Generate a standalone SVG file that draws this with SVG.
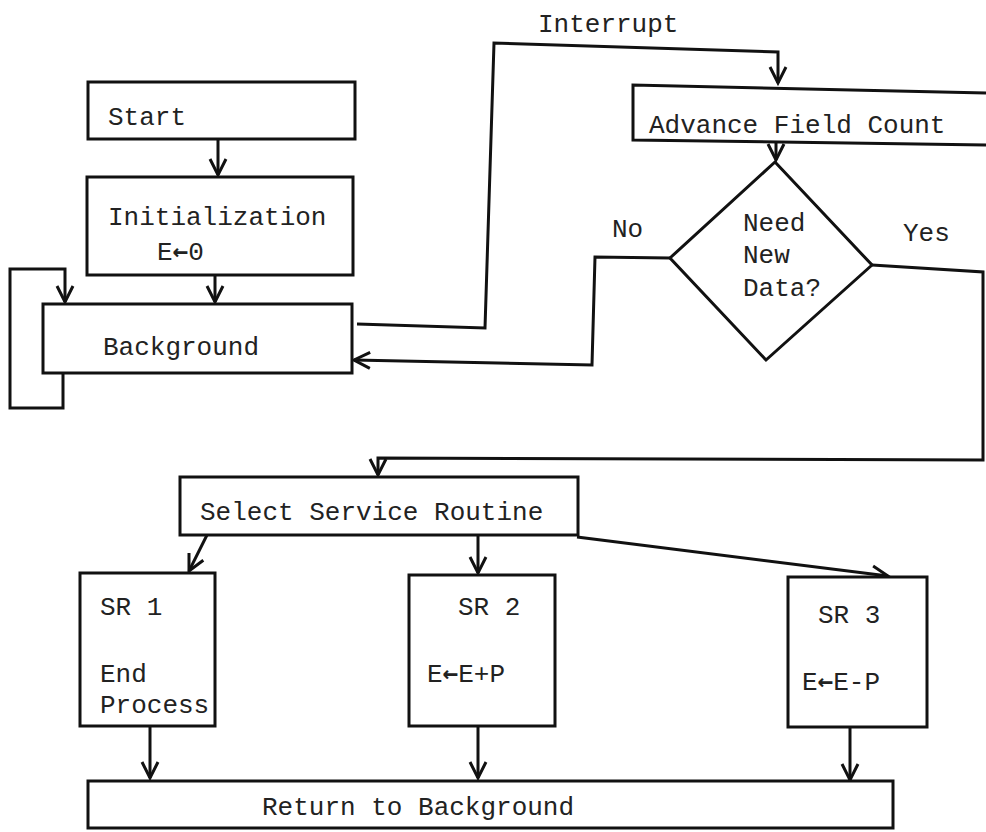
<svg xmlns="http://www.w3.org/2000/svg" width="986" height="832" viewBox="0 0 986 832">
<defs>
<style>
.box{fill:#fff;stroke:#111;stroke-width:3}
.ln{fill:none;stroke:#111;stroke-width:3;stroke-linejoin:miter}
.t{font-family:"Liberation Mono","Courier New",monospace;font-size:26px;fill:#222}
.a{font-family:"DejaVu Sans Mono",monospace;font-weight:bold}
</style>
<marker id="ar" markerUnits="userSpaceOnUse" markerWidth="24" markerHeight="24" viewBox="-20 -12 24 24" refX="0" refY="0" orient="auto">
<path d="M-16,-8 L0,0 L-16,8" fill="none" stroke="#111" stroke-width="3"/>
</marker>
</defs>
<rect width="986" height="832" fill="#fff"/>

<g id="connectors">
<path class="ln" d="M218,139 L218,175" marker-end="url(#ar)"/>
<path class="ln" d="M215,275 L215,302" marker-end="url(#ar)"/>
<path class="ln" d="M63,373 L63,408 L10,408 L10,269 L65,269 L65,302" marker-end="url(#ar)"/>
<path class="ln" d="M357,324 L485,328 L494,43 L778,52 L778,83" marker-end="url(#ar)"/>
<path class="ln" d="M776,140 L776,160" marker-end="url(#ar)"/>
<path class="ln" d="M670,258 L595,257 L592,365 L354,360" marker-end="url(#ar)"/>
<path class="ln" d="M872,265 L983,272 L983,460 L378,458 L378,475" marker-end="url(#ar)"/>
<path class="ln" d="M207,535 L189,571" marker-end="url(#ar)"/>
<path class="ln" d="M478,535 L478,573" marker-end="url(#ar)"/>
<path class="ln" d="M577,537 L888,576" marker-end="url(#ar)"/>
<path class="ln" d="M150,726 L150,778" marker-end="url(#ar)"/>
<path class="ln" d="M478,726 L478,778" marker-end="url(#ar)"/>
<path class="ln" d="M850,727 L850,780" marker-end="url(#ar)"/>
<text class="t" x="538" y="32">Interrupt</text>
<text class="t" x="612" y="237">No</text>
<text class="t" x="903" y="241">Yes</text>
</g>

<g id="start">
<rect class="box" x="88" y="82" width="267" height="57"/>
<text class="t" x="108" y="125">Start</text>
</g>

<g id="init">
<rect class="box" x="87" y="177" width="266" height="98"/>
<text class="t" x="108" y="225">Initialization</text>
<text class="t" x="157" y="260">E<tspan class="a">←</tspan>0</text>
</g>

<g id="background">
<rect class="box" x="43" y="304" width="309" height="69"/>
<text class="t" x="103" y="355">Background</text>
</g>

<g id="advance">
<path class="box" d="M986,93 L633,85 L633,140 L986,145"/>
<text class="t" x="649" y="133">Advance Field Count</text>
</g>

<g id="decision">
<path class="box" d="M775,162 L872,265 L766,360 L670,258 Z"/>
<text class="t" x="743" y="231">Need</text>
<text class="t" x="743" y="263">New</text>
<text class="t" x="743" y="296">Data?</text>
</g>

<g id="select">
<rect class="box" x="180" y="477" width="398" height="58"/>
<text class="t" x="200" y="520">Select Service Routine</text>
</g>

<g id="sr1">
<rect class="box" x="80" y="573" width="135" height="153"/>
<text class="t" x="100" y="615">SR 1</text>
<text class="t" x="100" y="682">End</text>
<text class="t" x="100" y="713">Process</text>
</g>

<g id="sr2">
<rect class="box" x="409" y="575" width="146" height="151"/>
<text class="t" x="458" y="615">SR 2</text>
<text class="t" x="427" y="682">E<tspan class="a">←</tspan>E+P</text>
</g>

<g id="sr3">
<rect class="box" x="788" y="577" width="139" height="150"/>
<text class="t" x="818" y="623">SR 3</text>
<text class="t" x="802" y="690">E<tspan class="a">←</tspan>E-P</text>
</g>

<g id="return">
<rect class="box" x="88" y="781" width="805" height="47"/>
<text class="t" x="262" y="815">Return to Background</text>
</g>
</svg>
